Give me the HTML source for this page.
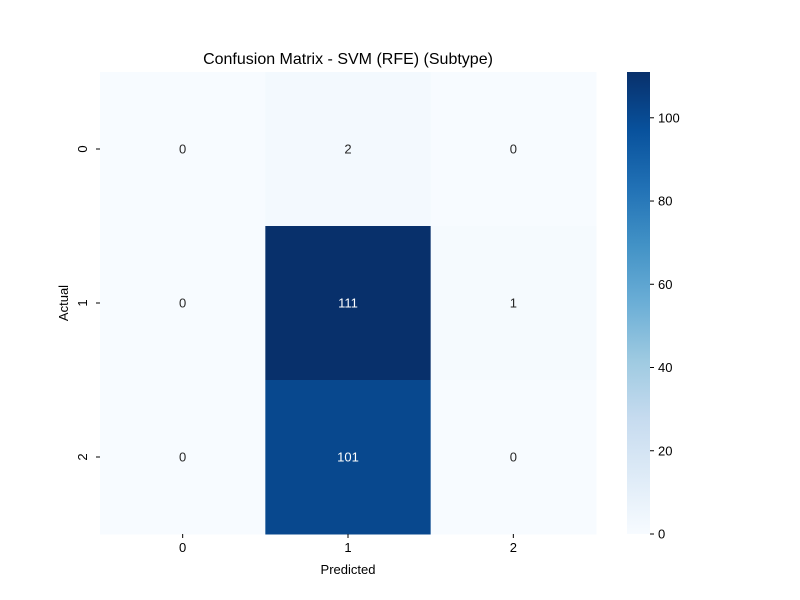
<!DOCTYPE html>
<html><head><meta charset="utf-8"><style>body{margin:0;background:#fff}svg{display:block;font-family:"Liberation Sans","DejaVu Sans",sans-serif}</style></head>
<body>
<svg id="chart" width="800" height="600">
<defs><linearGradient id="blues" x1="0" y1="1" x2="0" y2="0">
<stop offset="0" stop-color="#f7fbff"/><stop offset="0.125" stop-color="#deebf7"/><stop offset="0.25" stop-color="#c6dbef"/><stop offset="0.375" stop-color="#9ecae1"/><stop offset="0.5" stop-color="#6baed6"/><stop offset="0.625" stop-color="#4292c6"/><stop offset="0.75" stop-color="#2171b5"/><stop offset="0.875" stop-color="#08519c"/><stop offset="1" stop-color="#08306b"/></linearGradient></defs>
<text x="348" y="64" text-anchor="middle" font-size="16">Confusion Matrix - SVM (RFE) (Subtype)</text>
<g id="cells"></g>
<text x="348" y="574" text-anchor="middle" font-size="13">Predicted</text>
<text transform="translate(68,303) rotate(-90)" text-anchor="middle" font-size="13">Actual</text>
<rect x="627" y="72" width="23" height="462" fill="url(#blues)"/>
<g id="cbticks"></g>
</svg>
<script>
const predictedLabels = ["0","1","2"];
const actualLabels = ["0","1","2"];
const row0 = [0, 2, 0];
const row1 = [0, 111, 1];
const row2 = [0, 101, 0];
const colorbarTicks = [0, 20, 40, 60, 80, 100];
const matrix = [row0, row1, row2];
const NS = "http://www.w3.org/2000/svg";
const L = 100, R = 596, T = 72, B = 534;
const vmax = Math.max(...matrix.flat()), vmin = Math.min(...matrix.flat());
const cw = (R - L) / predictedLabels.length, ch = (B - T) / actualLabels.length;
const stops = ["#f7fbff","#deebf7","#c6dbef","#9ecae1","#6baed6","#4292c6","#2171b5","#08519c","#08306b"].map(h=>[1,3,5].map(i=>parseInt(h.substr(i,2),16)));
function color(v){let t=(v-vmin)/(vmax-vmin)*(stops.length-1);let i=Math.min(Math.floor(t),stops.length-2),f=t-i;return "rgb("+stops[i].map((c,k)=>Math.round(c+(stops[i+1][k]-c)*f)).join(",")+")";}
function el(tag, attrs, parent, txt){const e=document.createElementNS(NS,tag);for(const k in attrs)e.setAttribute(k,attrs[k]);if(txt!==undefined)e.textContent=txt;parent.appendChild(e);return e;}
const g = document.getElementById("cells"), svg = document.getElementById("chart");
matrix.forEach((row,r)=>row.forEach((v,c)=>{
  const rect = el("rect",{x:L+c*cw,y:T+r*ch,width:cw+0.5,height:ch+0.5,fill:color(v)},g);
  
  
  const t = el("text",{x:L+(c+0.5)*cw,y:T+(r+0.5)*ch+4.5,"text-anchor":"middle","font-size":13,fill:(v-vmin)/(vmax-vmin)>0.5?"#fff":"#262626"},g,String(v));
  
  
}));
predictedLabels.forEach((lab,c)=>{
  const x=L+(c+0.5)*cw;
  el("line",{x1:x,x2:x,y1:B,y2:B+4,stroke:"#000"},g);
  const t=el("text",{x:x,y:B+18,"text-anchor":"middle","font-size":13},g,lab);
  
  
});
actualLabels.forEach((lab,r)=>{
  const y=T+(r+0.5)*ch;
  el("line",{x1:L-4,x2:L,y1:y,y2:y,stroke:"#000"},g);
  const t=el("text",{transform:"translate("+(L-13)+","+y+") rotate(-90)","text-anchor":"middle","font-size":13},g,lab);
  
  
});
const cb=document.getElementById("cbticks");
colorbarTicks.forEach(v=>{
  const y=B-(v-vmin)/(vmax-vmin)*(B-T);
  el("line",{x1:650,x2:654,y1:y,y2:y,stroke:"#000"},cb);
  const t=el("text",{x:658,y:y+4.5,"font-size":13},cb,String(v));
  
  
});
</script>
</body></html>
